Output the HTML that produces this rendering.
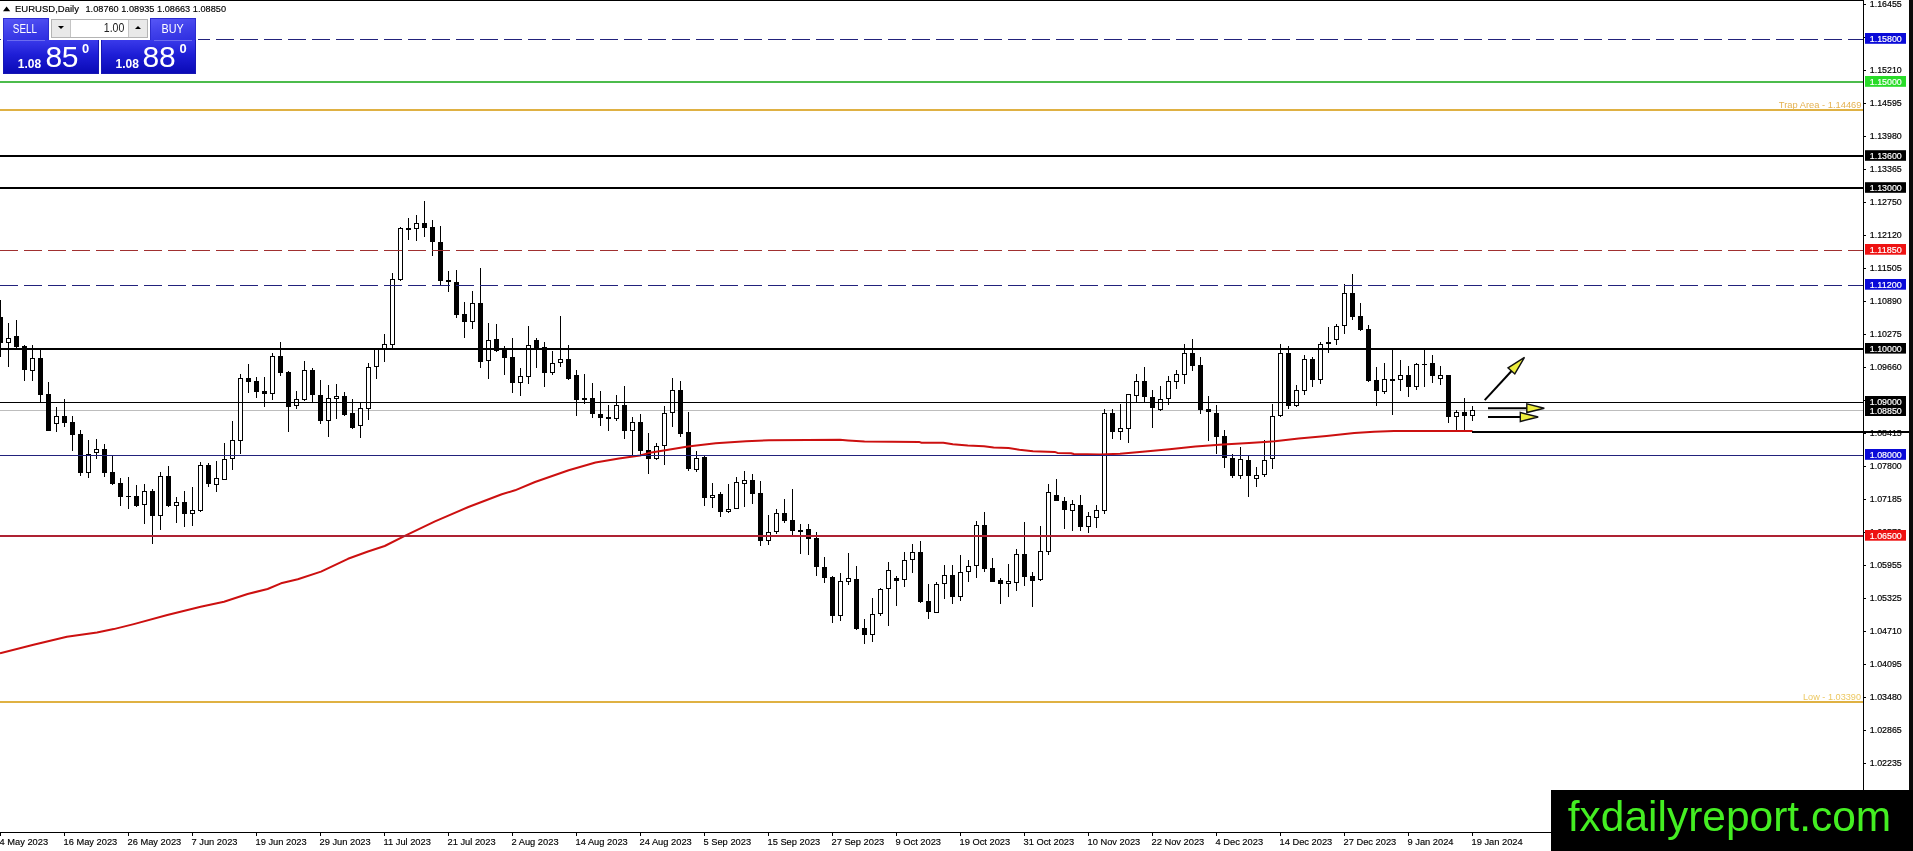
<!DOCTYPE html>
<html><head><meta charset="utf-8"><title>EURUSD Daily</title>
<style>
html,body{margin:0;padding:0;background:#fff}
body{width:1913px;height:851px;position:relative;overflow:hidden;font-family:"Liberation Sans",sans-serif}
svg{position:absolute;left:0;top:0;display:block;will-change:transform}
.panel{will-change:transform}
svg text{font-family:"Liberation Sans",sans-serif}
.ax{font-size:9.5px;fill:#000;stroke:#000;stroke-width:.2px}
.axw{font-size:9.5px;fill:#fff;stroke:#fff;stroke-width:.2px}
.dt{font-size:9.3px;fill:#000;stroke:#000;stroke-width:.15px}
.panel{position:absolute;left:0;top:0;color:#fff}
.panel div{position:absolute;box-sizing:border-box}
.btn{background:linear-gradient(170deg,#5656f6 0%,#4040ea 50%,#2e2ee0 100%);border:1px solid #2c2cd0;border-bottom:none;font-size:12px;text-align:center;line-height:21px}
.px{background:linear-gradient(180deg,#3a3aea 0%,#1e1ed6 45%,#0a0ab6 100%);border:1px solid #1616b4;border-top:none}
.sm{font-weight:bold;font-size:12px;line-height:12px}
.big{font-size:30px;line-height:30px;letter-spacing:-0.6px}
.sup{font-weight:bold;font-size:12.9px;line-height:12px}
.btn span{display:inline-block}
</style></head><body>
<svg width="1913" height="851" viewBox="0 0 1913 851">
<g shape-rendering="crispEdges">
<rect x="0" y="410" width="1863" height="1" fill="#bdbdbd"/>
<g fill="#000">
<rect x="0" y="300" width="1" height="57"/><rect x="-2" y="317" width="5" height="26"/>
<rect x="8" y="323" width="1" height="44"/><rect x="6" y="338" width="5" height="5"/><rect x="7" y="339" width="3" height="3" fill="#fff"/>
<rect x="16" y="320" width="1" height="28"/><rect x="14" y="336" width="5" height="11"/>
<rect x="24" y="345" width="1" height="36"/><rect x="22" y="346" width="5" height="24"/>
<rect x="32" y="345" width="1" height="36"/><rect x="30" y="358" width="5" height="13"/><rect x="31" y="359" width="3" height="11" fill="#fff"/>
<rect x="40" y="349" width="1" height="53"/><rect x="38" y="358" width="5" height="37"/>
<rect x="48" y="382" width="1" height="49"/><rect x="46" y="394" width="5" height="37"/>
<rect x="56" y="407" width="1" height="25"/><rect x="54" y="416" width="5" height="8"/><rect x="55" y="417" width="3" height="6" fill="#fff"/>
<rect x="64" y="399" width="1" height="28"/><rect x="62" y="416" width="5" height="7"/>
<rect x="72" y="416" width="1" height="35"/><rect x="70" y="422" width="5" height="13"/>
<rect x="80" y="430" width="1" height="46"/><rect x="78" y="434" width="5" height="39"/>
<rect x="88" y="440" width="1" height="38"/><rect x="86" y="454" width="5" height="19"/><rect x="87" y="455" width="3" height="17" fill="#fff"/>
<rect x="96" y="439" width="1" height="20"/><rect x="94" y="449" width="5" height="4"/><rect x="95" y="450" width="3" height="2" fill="#fff"/>
<rect x="104" y="444" width="1" height="33"/><rect x="102" y="449" width="5" height="24"/>
<rect x="112" y="456" width="1" height="29"/><rect x="110" y="472" width="5" height="12"/>
<rect x="120" y="478" width="1" height="28"/><rect x="118" y="483" width="5" height="14"/>
<rect x="128" y="477" width="1" height="32"/><rect x="126" y="496" width="5" height="1"/>
<rect x="136" y="485" width="1" height="22"/><rect x="134" y="496" width="5" height="10"/>
<rect x="144" y="484" width="1" height="40"/><rect x="142" y="491" width="5" height="14"/><rect x="143" y="492" width="3" height="12" fill="#fff"/>
<rect x="152" y="489" width="1" height="55"/><rect x="150" y="491" width="5" height="25"/>
<rect x="160" y="472" width="1" height="58"/><rect x="158" y="476" width="5" height="40"/><rect x="159" y="477" width="3" height="38" fill="#fff"/>
<rect x="168" y="466" width="1" height="41"/><rect x="166" y="476" width="5" height="30"/>
<rect x="176" y="497" width="1" height="26"/><rect x="174" y="502" width="5" height="4"/><rect x="175" y="503" width="3" height="2" fill="#fff"/>
<rect x="184" y="491" width="1" height="36"/><rect x="182" y="502" width="5" height="12"/>
<rect x="192" y="487" width="1" height="39"/><rect x="190" y="510" width="5" height="4"/><rect x="191" y="511" width="3" height="2" fill="#fff"/>
<rect x="200" y="462" width="1" height="50"/><rect x="198" y="465" width="5" height="46"/><rect x="199" y="466" width="3" height="44" fill="#fff"/>
<rect x="208" y="463" width="1" height="24"/><rect x="206" y="465" width="5" height="19"/>
<rect x="216" y="461" width="1" height="31"/><rect x="214" y="478" width="5" height="7"/><rect x="215" y="479" width="3" height="5" fill="#fff"/>
<rect x="224" y="443" width="1" height="37"/><rect x="222" y="459" width="5" height="21"/><rect x="223" y="460" width="3" height="19" fill="#fff"/>
<rect x="232" y="421" width="1" height="49"/><rect x="230" y="440" width="5" height="19"/><rect x="231" y="441" width="3" height="17" fill="#fff"/>
<rect x="240" y="374" width="1" height="80"/><rect x="238" y="378" width="5" height="63"/><rect x="239" y="379" width="3" height="61" fill="#fff"/>
<rect x="248" y="364" width="1" height="29"/><rect x="246" y="378" width="5" height="4"/>
<rect x="256" y="377" width="1" height="21"/><rect x="254" y="381" width="5" height="11"/>
<rect x="264" y="377" width="1" height="30"/><rect x="262" y="391" width="5" height="3"/>
<rect x="272" y="353" width="1" height="47"/><rect x="270" y="356" width="5" height="38"/><rect x="271" y="357" width="3" height="36" fill="#fff"/>
<rect x="280" y="342" width="1" height="34"/><rect x="278" y="356" width="5" height="17"/>
<rect x="288" y="371" width="1" height="61"/><rect x="286" y="372" width="5" height="35"/>
<rect x="296" y="391" width="1" height="18"/><rect x="294" y="399" width="5" height="7"/><rect x="295" y="400" width="3" height="5" fill="#fff"/>
<rect x="304" y="361" width="1" height="40"/><rect x="302" y="370" width="5" height="30"/><rect x="303" y="371" width="3" height="28" fill="#fff"/>
<rect x="312" y="368" width="1" height="35"/><rect x="310" y="370" width="5" height="25"/>
<rect x="320" y="380" width="1" height="44"/><rect x="318" y="395" width="5" height="26"/>
<rect x="328" y="385" width="1" height="52"/><rect x="326" y="398" width="5" height="23"/><rect x="327" y="399" width="3" height="21" fill="#fff"/>
<rect x="336" y="384" width="1" height="35"/><rect x="334" y="396" width="5" height="3"/><rect x="335" y="397" width="3" height="1" fill="#fff"/>
<rect x="344" y="392" width="1" height="24"/><rect x="342" y="396" width="5" height="19"/>
<rect x="352" y="399" width="1" height="30"/><rect x="350" y="413" width="5" height="15"/>
<rect x="360" y="403" width="1" height="35"/><rect x="358" y="408" width="5" height="18"/><rect x="359" y="409" width="3" height="16" fill="#fff"/>
<rect x="368" y="363" width="1" height="57"/><rect x="366" y="367" width="5" height="42"/><rect x="367" y="368" width="3" height="40" fill="#fff"/>
<rect x="376" y="349" width="1" height="30"/><rect x="374" y="349" width="5" height="18"/><rect x="375" y="350" width="3" height="16" fill="#fff"/>
<rect x="384" y="334" width="1" height="28"/><rect x="382" y="344" width="5" height="5"/><rect x="383" y="345" width="3" height="3" fill="#fff"/>
<rect x="392" y="273" width="1" height="75"/><rect x="390" y="279" width="5" height="66"/><rect x="391" y="280" width="3" height="64" fill="#fff"/>
<rect x="400" y="227" width="1" height="54"/><rect x="398" y="228" width="5" height="52"/><rect x="399" y="229" width="3" height="50" fill="#fff"/>
<rect x="408" y="218" width="1" height="22"/><rect x="406" y="228" width="5" height="2"/>
<rect x="416" y="215" width="1" height="26"/><rect x="414" y="223" width="5" height="6"/><rect x="415" y="224" width="3" height="4" fill="#fff"/>
<rect x="424" y="201" width="1" height="36"/><rect x="422" y="223" width="5" height="5"/>
<rect x="432" y="220" width="1" height="36"/><rect x="430" y="227" width="5" height="15"/>
<rect x="440" y="226" width="1" height="59"/><rect x="438" y="242" width="5" height="39"/>
<rect x="448" y="271" width="1" height="21"/><rect x="446" y="280" width="5" height="2"/>
<rect x="456" y="270" width="1" height="48"/><rect x="454" y="282" width="5" height="33"/>
<rect x="464" y="302" width="1" height="36"/><rect x="462" y="314" width="5" height="8"/>
<rect x="472" y="291" width="1" height="38"/><rect x="470" y="303" width="5" height="19"/><rect x="471" y="304" width="3" height="17" fill="#fff"/>
<rect x="480" y="268" width="1" height="100"/><rect x="478" y="303" width="5" height="59"/>
<rect x="488" y="323" width="1" height="56"/><rect x="486" y="340" width="5" height="21"/><rect x="487" y="341" width="3" height="19" fill="#fff"/>
<rect x="496" y="324" width="1" height="28"/><rect x="494" y="339" width="5" height="12"/>
<rect x="504" y="346" width="1" height="29"/><rect x="502" y="348" width="5" height="10"/>
<rect x="512" y="338" width="1" height="55"/><rect x="510" y="357" width="5" height="26"/>
<rect x="520" y="368" width="1" height="28"/><rect x="518" y="376" width="5" height="7"/><rect x="519" y="377" width="3" height="5" fill="#fff"/>
<rect x="528" y="326" width="1" height="58"/><rect x="526" y="345" width="5" height="32"/><rect x="527" y="346" width="3" height="30" fill="#fff"/>
<rect x="536" y="338" width="1" height="30"/><rect x="534" y="340" width="5" height="9"/>
<rect x="544" y="342" width="1" height="45"/><rect x="542" y="347" width="5" height="26"/>
<rect x="552" y="351" width="1" height="24"/><rect x="550" y="363" width="5" height="10"/><rect x="551" y="364" width="3" height="8" fill="#fff"/>
<rect x="560" y="316" width="1" height="51"/><rect x="558" y="359" width="5" height="4"/><rect x="559" y="360" width="3" height="2" fill="#fff"/>
<rect x="568" y="345" width="1" height="35"/><rect x="566" y="359" width="5" height="20"/>
<rect x="576" y="370" width="1" height="46"/><rect x="574" y="375" width="5" height="25"/>
<rect x="584" y="374" width="1" height="30"/><rect x="582" y="398" width="5" height="2"/>
<rect x="592" y="383" width="1" height="35"/><rect x="590" y="398" width="5" height="16"/>
<rect x="600" y="391" width="1" height="35"/><rect x="598" y="414" width="5" height="4"/>
<rect x="608" y="405" width="1" height="26"/><rect x="606" y="417" width="5" height="2"/>
<rect x="616" y="395" width="1" height="26"/><rect x="614" y="405" width="5" height="14"/><rect x="615" y="406" width="3" height="12" fill="#fff"/>
<rect x="624" y="386" width="1" height="53"/><rect x="622" y="405" width="5" height="26"/>
<rect x="632" y="417" width="1" height="38"/><rect x="630" y="422" width="5" height="9"/><rect x="631" y="423" width="3" height="7" fill="#fff"/>
<rect x="640" y="414" width="1" height="41"/><rect x="638" y="422" width="5" height="29"/>
<rect x="648" y="433" width="1" height="41"/><rect x="646" y="450" width="5" height="9"/>
<rect x="656" y="443" width="1" height="17"/><rect x="654" y="446" width="5" height="13"/><rect x="655" y="447" width="3" height="11" fill="#fff"/>
<rect x="664" y="406" width="1" height="59"/><rect x="662" y="413" width="5" height="33"/><rect x="663" y="414" width="3" height="31" fill="#fff"/>
<rect x="672" y="378" width="1" height="49"/><rect x="670" y="390" width="5" height="23"/><rect x="671" y="391" width="3" height="21" fill="#fff"/>
<rect x="680" y="381" width="1" height="56"/><rect x="678" y="390" width="5" height="44"/>
<rect x="688" y="412" width="1" height="59"/><rect x="686" y="432" width="5" height="37"/>
<rect x="696" y="451" width="1" height="21"/><rect x="694" y="458" width="5" height="12"/><rect x="695" y="459" width="3" height="10" fill="#fff"/>
<rect x="704" y="455" width="1" height="51"/><rect x="702" y="457" width="5" height="41"/>
<rect x="712" y="483" width="1" height="25"/><rect x="710" y="495" width="5" height="3"/><rect x="711" y="496" width="3" height="1" fill="#fff"/>
<rect x="720" y="492" width="1" height="25"/><rect x="718" y="494" width="5" height="18"/>
<rect x="728" y="484" width="1" height="29"/><rect x="726" y="509" width="5" height="3"/><rect x="727" y="510" width="3" height="1" fill="#fff"/>
<rect x="736" y="477" width="1" height="32"/><rect x="734" y="482" width="5" height="27"/><rect x="735" y="483" width="3" height="25" fill="#fff"/>
<rect x="744" y="471" width="1" height="36"/><rect x="742" y="480" width="5" height="4"/><rect x="743" y="481" width="3" height="2" fill="#fff"/>
<rect x="752" y="474" width="1" height="30"/><rect x="750" y="480" width="5" height="14"/>
<rect x="760" y="481" width="1" height="65"/><rect x="758" y="493" width="5" height="48"/>
<rect x="768" y="515" width="1" height="30"/><rect x="766" y="532" width="5" height="9"/><rect x="767" y="533" width="3" height="7" fill="#fff"/>
<rect x="776" y="509" width="1" height="25"/><rect x="774" y="513" width="5" height="19"/><rect x="775" y="514" width="3" height="17" fill="#fff"/>
<rect x="784" y="499" width="1" height="24"/><rect x="782" y="513" width="5" height="8"/>
<rect x="792" y="489" width="1" height="46"/><rect x="790" y="520" width="5" height="11"/>
<rect x="800" y="524" width="1" height="30"/><rect x="798" y="530" width="5" height="2"/>
<rect x="808" y="524" width="1" height="31"/><rect x="806" y="529" width="5" height="10"/>
<rect x="816" y="532" width="1" height="44"/><rect x="814" y="538" width="5" height="29"/>
<rect x="824" y="557" width="1" height="26"/><rect x="822" y="567" width="5" height="11"/>
<rect x="832" y="576" width="1" height="47"/><rect x="830" y="577" width="5" height="39"/>
<rect x="840" y="573" width="1" height="48"/><rect x="838" y="581" width="5" height="35"/><rect x="839" y="582" width="3" height="33" fill="#fff"/>
<rect x="848" y="553" width="1" height="32"/><rect x="846" y="578" width="5" height="4"/><rect x="847" y="579" width="3" height="2" fill="#fff"/>
<rect x="856" y="566" width="1" height="64"/><rect x="854" y="579" width="5" height="50"/>
<rect x="864" y="619" width="1" height="25"/><rect x="862" y="628" width="5" height="7"/>
<rect x="872" y="598" width="1" height="44"/><rect x="870" y="614" width="5" height="21"/><rect x="871" y="615" width="3" height="19" fill="#fff"/>
<rect x="880" y="588" width="1" height="28"/><rect x="878" y="589" width="5" height="25"/><rect x="879" y="590" width="3" height="23" fill="#fff"/>
<rect x="888" y="562" width="1" height="64"/><rect x="886" y="570" width="5" height="19"/><rect x="887" y="571" width="3" height="17" fill="#fff"/>
<rect x="896" y="576" width="1" height="30"/><rect x="894" y="578" width="5" height="3"/>
<rect x="904" y="552" width="1" height="35"/><rect x="902" y="560" width="5" height="20"/><rect x="903" y="561" width="3" height="18" fill="#fff"/>
<rect x="912" y="544" width="1" height="29"/><rect x="910" y="552" width="5" height="8"/><rect x="911" y="553" width="3" height="6" fill="#fff"/>
<rect x="920" y="541" width="1" height="62"/><rect x="918" y="552" width="5" height="50"/>
<rect x="928" y="584" width="1" height="35"/><rect x="926" y="601" width="5" height="11"/>
<rect x="936" y="582" width="1" height="31"/><rect x="934" y="584" width="5" height="29"/><rect x="935" y="585" width="3" height="27" fill="#fff"/>
<rect x="944" y="565" width="1" height="34"/><rect x="942" y="575" width="5" height="9"/><rect x="943" y="576" width="3" height="7" fill="#fff"/>
<rect x="952" y="565" width="1" height="39"/><rect x="950" y="575" width="5" height="22"/>
<rect x="960" y="555" width="1" height="46"/><rect x="958" y="572" width="5" height="25"/><rect x="959" y="573" width="3" height="23" fill="#fff"/>
<rect x="968" y="560" width="1" height="22"/><rect x="966" y="566" width="5" height="6"/><rect x="967" y="567" width="3" height="4" fill="#fff"/>
<rect x="976" y="521" width="1" height="57"/><rect x="974" y="525" width="5" height="41"/><rect x="975" y="526" width="3" height="39" fill="#fff"/>
<rect x="984" y="512" width="1" height="60"/><rect x="982" y="525" width="5" height="44"/>
<rect x="992" y="558" width="1" height="24"/><rect x="990" y="568" width="5" height="14"/>
<rect x="1000" y="578" width="1" height="26"/><rect x="998" y="580" width="5" height="4"/>
<rect x="1008" y="564" width="1" height="33"/><rect x="1006" y="581" width="5" height="3"/><rect x="1007" y="582" width="3" height="1" fill="#fff"/>
<rect x="1016" y="549" width="1" height="42"/><rect x="1014" y="554" width="5" height="29"/><rect x="1015" y="555" width="3" height="27" fill="#fff"/>
<rect x="1024" y="522" width="1" height="64"/><rect x="1022" y="554" width="5" height="23"/>
<rect x="1032" y="572" width="1" height="35"/><rect x="1030" y="576" width="5" height="5"/>
<rect x="1040" y="526" width="1" height="55"/><rect x="1038" y="551" width="5" height="29"/><rect x="1039" y="552" width="3" height="27" fill="#fff"/>
<rect x="1048" y="484" width="1" height="71"/><rect x="1046" y="492" width="5" height="60"/><rect x="1047" y="493" width="3" height="58" fill="#fff"/>
<rect x="1056" y="479" width="1" height="22"/><rect x="1054" y="495" width="5" height="6"/>
<rect x="1064" y="497" width="1" height="32"/><rect x="1062" y="501" width="5" height="9"/>
<rect x="1072" y="500" width="1" height="31"/><rect x="1070" y="504" width="5" height="7"/><rect x="1071" y="505" width="3" height="5" fill="#fff"/>
<rect x="1080" y="495" width="1" height="36"/><rect x="1078" y="505" width="5" height="22"/>
<rect x="1088" y="512" width="1" height="21"/><rect x="1086" y="516" width="5" height="11"/><rect x="1087" y="517" width="3" height="9" fill="#fff"/>
<rect x="1096" y="505" width="1" height="23"/><rect x="1094" y="510" width="5" height="8"/><rect x="1095" y="511" width="3" height="6" fill="#fff"/>
<rect x="1104" y="409" width="1" height="105"/><rect x="1102" y="413" width="5" height="98"/><rect x="1103" y="414" width="3" height="96" fill="#fff"/>
<rect x="1112" y="409" width="1" height="30"/><rect x="1110" y="413" width="5" height="19"/>
<rect x="1120" y="404" width="1" height="36"/><rect x="1118" y="428" width="5" height="4"/><rect x="1119" y="429" width="3" height="2" fill="#fff"/>
<rect x="1128" y="394" width="1" height="49"/><rect x="1126" y="394" width="5" height="35"/><rect x="1127" y="395" width="3" height="33" fill="#fff"/>
<rect x="1136" y="374" width="1" height="29"/><rect x="1134" y="381" width="5" height="15"/><rect x="1135" y="382" width="3" height="13" fill="#fff"/>
<rect x="1144" y="367" width="1" height="35"/><rect x="1142" y="381" width="5" height="16"/>
<rect x="1152" y="390" width="1" height="38"/><rect x="1150" y="397" width="5" height="11"/>
<rect x="1160" y="386" width="1" height="25"/><rect x="1158" y="399" width="5" height="11"/><rect x="1159" y="400" width="3" height="9" fill="#fff"/>
<rect x="1168" y="376" width="1" height="29"/><rect x="1166" y="381" width="5" height="18"/><rect x="1167" y="382" width="3" height="16" fill="#fff"/>
<rect x="1176" y="370" width="1" height="19"/><rect x="1174" y="374" width="5" height="8"/><rect x="1175" y="375" width="3" height="6" fill="#fff"/>
<rect x="1184" y="344" width="1" height="40"/><rect x="1182" y="353" width="5" height="22"/><rect x="1183" y="354" width="3" height="20" fill="#fff"/>
<rect x="1192" y="339" width="1" height="32"/><rect x="1190" y="353" width="5" height="13"/>
<rect x="1200" y="357" width="1" height="57"/><rect x="1198" y="365" width="5" height="45"/>
<rect x="1208" y="396" width="1" height="45"/><rect x="1206" y="409" width="5" height="3"/>
<rect x="1216" y="405" width="1" height="49"/><rect x="1214" y="413" width="5" height="24"/>
<rect x="1224" y="430" width="1" height="38"/><rect x="1222" y="436" width="5" height="22"/>
<rect x="1232" y="454" width="1" height="24"/><rect x="1230" y="458" width="5" height="18"/>
<rect x="1240" y="447" width="1" height="32"/><rect x="1238" y="459" width="5" height="17"/><rect x="1239" y="460" width="3" height="15" fill="#fff"/>
<rect x="1248" y="455" width="1" height="42"/><rect x="1246" y="460" width="5" height="16"/>
<rect x="1256" y="467" width="1" height="20"/><rect x="1254" y="475" width="5" height="4"/><rect x="1255" y="476" width="3" height="2" fill="#fff"/>
<rect x="1264" y="440" width="1" height="37"/><rect x="1262" y="460" width="5" height="15"/><rect x="1263" y="461" width="3" height="13" fill="#fff"/>
<rect x="1272" y="404" width="1" height="65"/><rect x="1270" y="416" width="5" height="43"/><rect x="1271" y="417" width="3" height="41" fill="#fff"/>
<rect x="1280" y="344" width="1" height="73"/><rect x="1278" y="353" width="5" height="63"/><rect x="1279" y="354" width="3" height="61" fill="#fff"/>
<rect x="1288" y="346" width="1" height="63"/><rect x="1286" y="353" width="5" height="53"/>
<rect x="1296" y="385" width="1" height="22"/><rect x="1294" y="390" width="5" height="16"/><rect x="1295" y="391" width="3" height="14" fill="#fff"/>
<rect x="1304" y="355" width="1" height="40"/><rect x="1302" y="359" width="5" height="32"/><rect x="1303" y="360" width="3" height="30" fill="#fff"/>
<rect x="1312" y="357" width="1" height="30"/><rect x="1310" y="359" width="5" height="21"/>
<rect x="1320" y="342" width="1" height="42"/><rect x="1318" y="344" width="5" height="36"/><rect x="1319" y="345" width="3" height="34" fill="#fff"/>
<rect x="1328" y="327" width="1" height="26"/><rect x="1326" y="342" width="5" height="2"/>
<rect x="1336" y="324" width="1" height="21"/><rect x="1334" y="326" width="5" height="14"/><rect x="1335" y="327" width="3" height="12" fill="#fff"/>
<rect x="1344" y="284" width="1" height="50"/><rect x="1342" y="293" width="5" height="33"/><rect x="1343" y="294" width="3" height="31" fill="#fff"/>
<rect x="1352" y="274" width="1" height="46"/><rect x="1350" y="293" width="5" height="24"/>
<rect x="1360" y="303" width="1" height="28"/><rect x="1358" y="316" width="5" height="14"/>
<rect x="1368" y="325" width="1" height="57"/><rect x="1366" y="329" width="5" height="52"/>
<rect x="1376" y="367" width="1" height="39"/><rect x="1374" y="380" width="5" height="11"/>
<rect x="1384" y="363" width="1" height="31"/><rect x="1382" y="379" width="5" height="13"/><rect x="1383" y="380" width="3" height="11" fill="#fff"/>
<rect x="1392" y="349" width="1" height="66"/><rect x="1390" y="379" width="5" height="2"/>
<rect x="1400" y="360" width="1" height="31"/><rect x="1398" y="375" width="5" height="5"/><rect x="1399" y="376" width="3" height="3" fill="#fff"/>
<rect x="1408" y="366" width="1" height="31"/><rect x="1406" y="375" width="5" height="12"/>
<rect x="1416" y="363" width="1" height="27"/><rect x="1414" y="364" width="5" height="23"/><rect x="1415" y="365" width="3" height="21" fill="#fff"/>
<rect x="1424" y="349" width="1" height="38"/><rect x="1422" y="364" width="5" height="1"/>
<rect x="1432" y="355" width="1" height="28"/><rect x="1430" y="363" width="5" height="13"/>
<rect x="1440" y="366" width="1" height="19"/><rect x="1438" y="375" width="5" height="4"/><rect x="1439" y="376" width="3" height="2" fill="#fff"/>
<rect x="1448" y="375" width="1" height="48"/><rect x="1446" y="375" width="5" height="42"/>
<rect x="1456" y="410" width="1" height="20"/><rect x="1454" y="412" width="5" height="5"/><rect x="1455" y="413" width="3" height="3" fill="#fff"/>
<rect x="1464" y="398" width="1" height="32"/><rect x="1462" y="412" width="5" height="4"/>
<rect x="1472" y="406" width="1" height="15"/><rect x="1470" y="410" width="5" height="6"/><rect x="1471" y="411" width="3" height="4" fill="#fff"/>
</g>
</g>
<polyline points="0.0,653.2 33.5,644.8 66.9,636.8 97.0,632.4 113.7,629.1 133.8,624.1 167.3,615.0 200.7,606.7 224.0,601.7 247.6,594.0 267.6,589.0 281.0,583.3 297.8,579.2 321.0,571.6 348.0,558.8 368.0,551.5 384.7,546.0 404.8,535.8 435.0,521.4 468.4,507.0 501.8,494.3 515.0,490.3 535.0,482.0 568.7,470.2 595.5,462.5 619.0,458.5 640.0,455.5 648.4,453.1 669.8,449.5 688.0,446.4 715.7,443.3 746.0,441.2 769.0,440.2 807.0,440.0 840.0,439.7 848.0,440.4 864.5,441.6 919.0,441.9 921.5,442.7 943.3,442.8 952.8,444.3 967.8,445.4 984.0,446.2 993.6,447.6 1008.5,448.1 1019.4,449.7 1033.0,451.2 1054.7,451.9 1057.5,452.9 1071.0,453.3 1073.8,454.0 1100.0,454.5 1120.0,453.7 1139.7,451.9 1169.5,449.2 1195.4,446.6 1223.0,444.5 1249.0,443.0 1274.8,441.2 1298.7,438.6 1326.5,436.0 1354.3,433.1 1374.0,431.7 1394.0,430.9 1472.5,430.9" fill="none" stroke="#cc1010" stroke-width="2" stroke-linejoin="round"/>
<g shape-rendering="crispEdges">
<line x1="0" y1="39.5" x2="1863" y2="39.5" stroke="#22227c" stroke-width="1" stroke-dasharray="18 6"/>
<rect x="0" y="81" width="1863" height="2" fill="#4cbc4c"/>
<rect x="0" y="109" width="1863" height="2" fill="#dfb143"/>
<rect x="0" y="155" width="1863" height="2" fill="#000"/>
<rect x="0" y="187" width="1863" height="2" fill="#000"/>
<line x1="0" y1="250.5" x2="1863" y2="250.5" stroke="#a03030" stroke-width="1" stroke-dasharray="18 6"/>
<line x1="0" y1="285.5" x2="1863" y2="285.5" stroke="#22227c" stroke-width="1" stroke-dasharray="18 6"/>
<rect x="0" y="348" width="1863" height="2" fill="#000"/>
<rect x="0" y="402" width="1863" height="1" fill="#000"/>
<rect x="0" y="455" width="1863" height="1" fill="#22227c"/>
<rect x="0" y="535" width="1863" height="2" fill="#ae2232"/>
<rect x="0" y="701" width="1863" height="2" fill="#dfb143"/>
<rect x="0" y="0" width="1864" height="1" fill="#000"/>
<rect x="1863" y="0" width="1" height="833" fill="#000"/>
<rect x="0" y="832" width="1864" height="1" fill="#000"/>
<rect x="1909" y="0" width="4" height="851" fill="#0b0b0b"/>
<rect x="1864" y="4" width="2" height="1" fill="#000"/><rect x="1864" y="37" width="2" height="1" fill="#000"/><rect x="1864" y="70" width="2" height="1" fill="#000"/><rect x="1864" y="103" width="2" height="1" fill="#000"/><rect x="1864" y="136" width="2" height="1" fill="#000"/><rect x="1864" y="169" width="2" height="1" fill="#000"/><rect x="1864" y="202" width="2" height="1" fill="#000"/><rect x="1864" y="235" width="2" height="1" fill="#000"/><rect x="1864" y="268" width="2" height="1" fill="#000"/><rect x="1864" y="301" width="2" height="1" fill="#000"/><rect x="1864" y="334" width="2" height="1" fill="#000"/><rect x="1864" y="367" width="2" height="1" fill="#000"/><rect x="1864" y="400" width="2" height="1" fill="#000"/><rect x="1864" y="433" width="2" height="1" fill="#000"/><rect x="1864" y="466" width="2" height="1" fill="#000"/><rect x="1864" y="499" width="2" height="1" fill="#000"/><rect x="1864" y="532" width="2" height="1" fill="#000"/><rect x="1864" y="565" width="2" height="1" fill="#000"/><rect x="1864" y="598" width="2" height="1" fill="#000"/><rect x="1864" y="631" width="2" height="1" fill="#000"/><rect x="1864" y="664" width="2" height="1" fill="#000"/><rect x="1864" y="697" width="2" height="1" fill="#000"/><rect x="1864" y="730" width="2" height="1" fill="#000"/><rect x="1864" y="763" width="2" height="1" fill="#000"/>
<rect x="0" y="833" width="1" height="3" fill="#000"/><rect x="64" y="833" width="1" height="3" fill="#000"/><rect x="128" y="833" width="1" height="3" fill="#000"/><rect x="192" y="833" width="1" height="3" fill="#000"/><rect x="256" y="833" width="1" height="3" fill="#000"/><rect x="320" y="833" width="1" height="3" fill="#000"/><rect x="384" y="833" width="1" height="3" fill="#000"/><rect x="448" y="833" width="1" height="3" fill="#000"/><rect x="512" y="833" width="1" height="3" fill="#000"/><rect x="576" y="833" width="1" height="3" fill="#000"/><rect x="640" y="833" width="1" height="3" fill="#000"/><rect x="704" y="833" width="1" height="3" fill="#000"/><rect x="768" y="833" width="1" height="3" fill="#000"/><rect x="832" y="833" width="1" height="3" fill="#000"/><rect x="896" y="833" width="1" height="3" fill="#000"/><rect x="960" y="833" width="1" height="3" fill="#000"/><rect x="1024" y="833" width="1" height="3" fill="#000"/><rect x="1088" y="833" width="1" height="3" fill="#000"/><rect x="1152" y="833" width="1" height="3" fill="#000"/><rect x="1216" y="833" width="1" height="3" fill="#000"/><rect x="1280" y="833" width="1" height="3" fill="#000"/><rect x="1344" y="833" width="1" height="3" fill="#000"/><rect x="1408" y="833" width="1" height="3" fill="#000"/><rect x="1472" y="833" width="1" height="3" fill="#000"/>
</g>
<text class="ax" x="1869.8" y="7.4" textLength="32" lengthAdjust="spacingAndGlyphs">1.16455</text><text class="ax" x="1869.8" y="40.4" textLength="32" lengthAdjust="spacingAndGlyphs">1.15830</text><text class="ax" x="1869.8" y="73.4" textLength="32" lengthAdjust="spacingAndGlyphs">1.15210</text><text class="ax" x="1869.8" y="106.4" textLength="32" lengthAdjust="spacingAndGlyphs">1.14595</text><text class="ax" x="1869.8" y="139.4" textLength="32" lengthAdjust="spacingAndGlyphs">1.13980</text><text class="ax" x="1869.8" y="172.4" textLength="32" lengthAdjust="spacingAndGlyphs">1.13365</text><text class="ax" x="1869.8" y="205.4" textLength="32" lengthAdjust="spacingAndGlyphs">1.12750</text><text class="ax" x="1869.8" y="238.4" textLength="32" lengthAdjust="spacingAndGlyphs">1.12120</text><text class="ax" x="1869.8" y="271.4" textLength="32" lengthAdjust="spacingAndGlyphs">1.11505</text><text class="ax" x="1869.8" y="304.4" textLength="32" lengthAdjust="spacingAndGlyphs">1.10890</text><text class="ax" x="1869.8" y="337.4" textLength="32" lengthAdjust="spacingAndGlyphs">1.10275</text><text class="ax" x="1869.8" y="370.4" textLength="32" lengthAdjust="spacingAndGlyphs">1.09660</text><text class="ax" x="1869.8" y="403.4" textLength="32" lengthAdjust="spacingAndGlyphs">1.09045</text><text class="ax" x="1869.8" y="436.4" textLength="32" lengthAdjust="spacingAndGlyphs">1.08415</text><text class="ax" x="1869.8" y="469.4" textLength="32" lengthAdjust="spacingAndGlyphs">1.07800</text><text class="ax" x="1869.8" y="502.4" textLength="32" lengthAdjust="spacingAndGlyphs">1.07185</text><text class="ax" x="1869.8" y="535.4" textLength="32" lengthAdjust="spacingAndGlyphs">1.06570</text><text class="ax" x="1869.8" y="568.4" textLength="32" lengthAdjust="spacingAndGlyphs">1.05955</text><text class="ax" x="1869.8" y="601.4" textLength="32" lengthAdjust="spacingAndGlyphs">1.05325</text><text class="ax" x="1869.8" y="634.4" textLength="32" lengthAdjust="spacingAndGlyphs">1.04710</text><text class="ax" x="1869.8" y="667.4" textLength="32" lengthAdjust="spacingAndGlyphs">1.04095</text><text class="ax" x="1869.8" y="700.4" textLength="32" lengthAdjust="spacingAndGlyphs">1.03480</text><text class="ax" x="1869.8" y="733.4" textLength="32" lengthAdjust="spacingAndGlyphs">1.02865</text><text class="ax" x="1869.8" y="766.4" textLength="32" lengthAdjust="spacingAndGlyphs">1.02235</text>
<rect x="1472" y="431" width="437" height="2" fill="#000" shape-rendering="crispEdges"/>
<rect x="1865" y="33" width="41" height="10.799999999999997" fill="#0a0ad8"/><text class="axw" x="1869.8" y="41.7" textLength="32" lengthAdjust="spacingAndGlyphs">1.15800</text>
<rect x="1865" y="76" width="41" height="10.799999999999997" fill="#28dc28"/><text class="axw" x="1869.8" y="84.7" textLength="32" lengthAdjust="spacingAndGlyphs">1.15000</text>
<rect x="1865" y="150.2" width="41" height="10.600000000000023" fill="#000"/><text class="axw" x="1869.8" y="158.8" textLength="32" lengthAdjust="spacingAndGlyphs">1.13600</text>
<rect x="1865" y="182.2" width="41" height="10.600000000000023" fill="#000"/><text class="axw" x="1869.8" y="190.8" textLength="32" lengthAdjust="spacingAndGlyphs">1.13000</text>
<rect x="1865" y="244" width="41" height="10.699999999999989" fill="#ee1212"/><text class="axw" x="1869.8" y="252.7" textLength="32" lengthAdjust="spacingAndGlyphs">1.11850</text>
<rect x="1865" y="279" width="41" height="10.699999999999989" fill="#0a0ad8"/><text class="axw" x="1869.8" y="287.7" textLength="32" lengthAdjust="spacingAndGlyphs">1.11200</text>
<rect x="1865" y="343" width="41" height="10.600000000000023" fill="#000"/><text class="axw" x="1869.8" y="351.7" textLength="32" lengthAdjust="spacingAndGlyphs">1.10000</text>
<rect x="1865" y="396" width="41" height="20" fill="#000"/><text class="axw" x="1869.8" y="404.6" textLength="32" lengthAdjust="spacingAndGlyphs">1.09000</text><text class="axw" x="1869.8" y="413.8" textLength="32" lengthAdjust="spacingAndGlyphs">1.08850</text>
<rect x="1865" y="449" width="41" height="10.800000000000011" fill="#0a0ad8"/><text class="axw" x="1869.8" y="457.7" textLength="32" lengthAdjust="spacingAndGlyphs">1.08000</text>
<rect x="1865" y="530" width="41" height="10.700000000000045" fill="#ee1212"/><text class="axw" x="1869.8" y="538.7" textLength="32" lengthAdjust="spacingAndGlyphs">1.06500</text>
<text x="1861.5" y="107.6" text-anchor="end" font-size="9" fill="#e4b252" textLength="82.7" lengthAdjust="spacingAndGlyphs">Trap Area - 1.14469</text>
<text x="1861" y="699.6" text-anchor="end" font-size="9" fill="#ecc862" textLength="58" lengthAdjust="spacingAndGlyphs">Low - 1.03390</text>
<text class="dt" x="-0.5" y="845">4 May 2023</text><text class="dt" x="63.5" y="845">16 May 2023</text><text class="dt" x="127.5" y="845">26 May 2023</text><text class="dt" x="191.5" y="845">7 Jun 2023</text><text class="dt" x="255.5" y="845">19 Jun 2023</text><text class="dt" x="319.5" y="845">29 Jun 2023</text><text class="dt" x="383.5" y="845">11 Jul 2023</text><text class="dt" x="447.5" y="845">21 Jul 2023</text><text class="dt" x="511.5" y="845">2 Aug 2023</text><text class="dt" x="575.5" y="845">14 Aug 2023</text><text class="dt" x="639.5" y="845">24 Aug 2023</text><text class="dt" x="703.5" y="845">5 Sep 2023</text><text class="dt" x="767.5" y="845">15 Sep 2023</text><text class="dt" x="831.5" y="845">27 Sep 2023</text><text class="dt" x="895.5" y="845">9 Oct 2023</text><text class="dt" x="959.5" y="845">19 Oct 2023</text><text class="dt" x="1023.5" y="845">31 Oct 2023</text><text class="dt" x="1087.5" y="845">10 Nov 2023</text><text class="dt" x="1151.5" y="845">22 Nov 2023</text><text class="dt" x="1215.5" y="845">4 Dec 2023</text><text class="dt" x="1279.5" y="845">14 Dec 2023</text><text class="dt" x="1343.5" y="845">27 Dec 2023</text><text class="dt" x="1407.5" y="845">9 Jan 2024</text><text class="dt" x="1471.5" y="845">19 Jan 2024</text>
<g stroke="#000" stroke-width="2" fill="none"><line x1="1484.7" y1="400.1" x2="1512" y2="370.5"/><line x1="1488" y1="408.2" x2="1528" y2="408.2"/><line x1="1488" y1="417" x2="1521" y2="417"/></g>
<g stroke="#111" stroke-width="1.4" fill="#eded3e" stroke-linejoin="miter"><polygon points="1524.5,357.3 1508,367.8 1514.8,373.9"/><polygon points="1544.3,408.2 1526.8,403.9 1526.8,412.5"/><polygon points="1538.2,417 1520.3,412.5 1520.3,421.5"/></g>
<rect x="1551" y="790" width="362" height="61" fill="#000"/>
<text x="1567.8" y="831.4" font-size="41.7" fill="#44ee22" textLength="323.4" lengthAdjust="spacingAndGlyphs">fxdailyreport.com</text>
<polygon points="3,11.3 10.2,11.3 6.6,6.6" fill="#000"/>
<text x="15" y="12" font-size="9.7" fill="#000" stroke="#000" stroke-width=".15" textLength="64" lengthAdjust="spacingAndGlyphs">EURUSD,Daily</text>
<text x="85.5" y="12" font-size="9.7" fill="#000" stroke="#000" stroke-width=".15" textLength="140.5" lengthAdjust="spacingAndGlyphs">1.08760 1.08935 1.08663 1.08850</text>
</svg>
<div class="panel">
<div style="left:1.3px;top:18px;width:197.1px;height:56px;background:#fff"></div>
<div class="btn" style="left:3px;top:18px;width:46px;height:22px"><span style="transform:scaleX(0.82) translateX(-1px)">SELL</span></div>
<div class="btn" style="left:150px;top:18px;width:46px;height:22px"><span style="transform:scaleX(0.9) translateX(-0.8px)">BUY</span></div>
<div style="left:51px;top:18.5px;width:97px;height:19.5px;background:#fff;border:1px solid #b4b4b4"></div>
<div style="left:52px;top:19.5px;width:18.7px;height:17.5px;background:#e9e9e9;border-right:1px solid #c4c4c4"></div>
<div style="left:128.3px;top:19.5px;width:18.7px;height:17.5px;background:#e9e9e9;border-left:1px solid #c4c4c4"></div>
<div style="left:58px;top:26px;width:0;height:0;border-left:3px solid transparent;border-right:3px solid transparent;border-top:3.5px solid #000"></div>
<div style="left:134.5px;top:25.5px;width:0;height:0;border-left:3px solid transparent;border-right:3px solid transparent;border-bottom:3.5px solid #000"></div>
<div style="left:72px;top:19.5px;width:52.5px;height:17px;color:#222;font-size:12px;line-height:17px;text-align:right"><span style="display:inline-block;transform:scaleX(0.88);transform-origin:100% 50%">1.00</span></div>
<div class="px" style="left:3px;top:40px;width:95.7px;height:33.7px"></div>
<div class="px" style="left:101px;top:40px;width:95px;height:33.7px"></div>
<div style="left:7px;top:40px;width:38px;height:1px;background:#6c6cf0"></div>
<div style="left:154px;top:40px;width:38px;height:1px;background:#6c6cf0"></div>
<div class="sm" style="left:17.8px;top:58.1px">1.08</div>
<div class="big" style="left:45.6px;top:42px">85</div>
<div class="sup" style="left:82px;top:43px">0</div>
<div class="sm" style="left:115.6px;top:58.1px">1.08</div>
<div class="big" style="left:142.4px;top:42px;letter-spacing:0">88</div>
<div class="sup" style="left:179.5px;top:43px">0</div>
</div>
</body></html>
